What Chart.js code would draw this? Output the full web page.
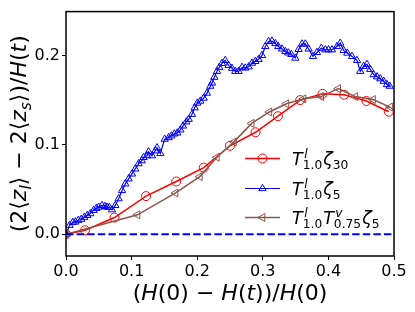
<!DOCTYPE html>
<html>
<head>
<meta charset="utf-8">
<script src="https://cdn.jsdelivr.net/npm/chart.js@4.4.1/dist/chart.umd.min.js"></script>
<style>
html, body { margin: 0; padding: 0; background: #fff; }
</style>
</head>
<body>
<canvas id="chart" width="415" height="312"></canvas>
<script>
// data
const xRed = [0, 0.029, 0.074, 0.122, 0.168, 0.210, 0.250, 0.289, 0.323, 0.357, 0.391, 0.424, 0.458, 0.492];
const yRed = [0, 0.0044, 0.0186, 0.0426, 0.0589, 0.0744, 0.0989, 0.114, 0.132, 0.150, 0.157, 0.156, 0.149, 0.137];

const xBlue = [
    0, 0.0055, 0.0104, 0.0143, 0.0188, 0.0233, 0.0279, 0.0325, 0.0371, 0.0421,
    0.0463, 0.0498, 0.0549, 0.0591, 0.0625, 0.0660, 0.0701, 0.0752, 0.0802, 0.0854,
    0.0904, 0.0954, 0.1006, 0.1056, 0.1107, 0.1155, 0.1183, 0.1235, 0.1259, 0.1311,
    0.1361, 0.1387, 0.1438, 0.1504, 0.1565, 0.1606, 0.1652, 0.1697, 0.1743, 0.1784,
    0.1834, 0.1870, 0.1921, 0.1961, 0.2002, 0.2047, 0.2098, 0.2149, 0.2200, 0.2226,
    0.2261, 0.2302, 0.2337, 0.2378, 0.2428, 0.2479, 0.2530, 0.2581, 0.2631, 0.2683,
    0.2733, 0.2784, 0.2835, 0.2886, 0.2936, 0.2988, 0.3038, 0.3088, 0.3140, 0.3191,
    0.3236, 0.3293, 0.3343, 0.3389, 0.3435, 0.3496, 0.3546, 0.3598, 0.3648, 0.3698,
    0.3765, 0.3826, 0.3892, 0.3953, 0.4003, 0.4055, 0.4131, 0.4181, 0.4232, 0.4288,
    0.4360, 0.4436, 0.4486, 0.4537, 0.4588, 0.4639, 0.4689, 0.4741, 0.4791, 0.4842,
    0.4893, 0.4935
];
const yBlue = [
    0, 0.010, 0.0133, 0.0137, 0.0156, 0.0167, 0.0189, 0.0211, 0.0230, 0.0267,
    0.0289, 0.0303, 0.0322, 0.0311, 0.0303, 0.0300, 0.0274, 0.0322, 0.0397, 0.0489,
    0.0563, 0.0619, 0.0674, 0.0730, 0.0789, 0.0822, 0.0859, 0.0878, 0.0922, 0.0878,
    0.0933, 0.0967, 0.0903, 0.1063, 0.1081, 0.1100, 0.1122, 0.1133, 0.1167, 0.1211,
    0.1256, 0.1286, 0.1341, 0.1414, 0.1467, 0.1489, 0.1522, 0.1578, 0.1656, 0.1692,
    0.1756, 0.1822, 0.1867, 0.1911, 0.1944, 0.1889, 0.1856, 0.1822, 0.1822, 0.1867,
    0.1859, 0.1872, 0.1914, 0.1933, 0.1956, 0.2000, 0.2100, 0.2156, 0.2161, 0.2133,
    0.2100, 0.2072, 0.2044, 0.2028, 0.2011, 0.1970, 0.2067, 0.2128, 0.2128, 0.2072,
    0.1989, 0.2033, 0.2081, 0.2063, 0.2063, 0.2063, 0.2100, 0.2137, 0.2056, 0.2026,
    0.1989, 0.1944, 0.1822, 0.1878, 0.1900, 0.1844, 0.1785, 0.1761, 0.1739, 0.1711,
    0.1674, 0.1656
];

const xBrown = [0, 0.109, 0.167, 0.204, 0.230, 0.256, 0.283, 0.310, 0.336, 0.362, 0.389, 0.415, 0.441, 0.468, 0.494];
const yBrown = [0, 0.0217, 0.0461, 0.0644, 0.0861, 0.1033, 0.1239, 0.1367, 0.1459, 0.1514, 0.1539, 0.1628, 0.1539, 0.1506, 0.1422];

const xZero = [0, 0.5];
const yZero = [0, 0];

const xTicks = [0, 0.1, 0.2, 0.3, 0.4, 0.5];
const yTicks = [0, 0.1, 0.2];

// label pieces: t = text, it = italic, sh = 1 for subscript; sup/sub = stacked scripts
const xLabel = [
    {t: '('}, {t: 'H', it: true}, {t: '(0) \u2212 '}, {t: 'H', it: true}, {t: '('},
    {t: 't', it: true}, {t: '))/'}, {t: 'H', it: true}, {t: '(0)'}
];
const yLabel = [
    {t: '(2\u27E8'}, {t: 'z', it: true}, {t: 'l', it: true, sh: 1}, {t: '\u27E9 \u2212 2\u27E8'},
    {t: 'z', it: true}, {t: 's', it: true, sh: 1}, {t: '\u27E9)/'}, {t: 'H', it: true},
    {t: '('}, {t: 't', it: true}, {t: ')'}
];
const legendLabels = [
    [{t: 'T', it: true}, {sup: 'l', sub: '1.0'}, {t: '\u03B6', it: true}, {t: '30', sh: 1}],
    [{t: 'T', it: true}, {sup: 'l', sub: '1.0'}, {t: '\u03B6', it: true}, {t: '5', sh: 1}],
    [{t: 'T', it: true}, {sup: 'l', sub: '1.0'}, {t: 'T', it: true}, {sup: 'v', sub: '0.75'}, {t: '\u03B6', it: true}, {t: '5', sh: 1}]
];

const toPoints = (xs, ys) => xs.map((x, i) => ({x: x, y: ys[i]}));

function richText(ctx, parts, size, x, y, draw) {
    let cx = x;
    const small = size * 0.7;
    parts.forEach(p => {
        if (p.sup !== undefined) {
            ctx.font = 'italic ' + small + 'px "DejaVu Sans"';
            const w1 = ctx.measureText(p.sup).width;
            if (draw) ctx.fillText(p.sup, cx + 1.5, y - size * 0.4);
            ctx.font = small + 'px "DejaVu Sans"';
            const w2 = ctx.measureText(p.sub).width;
            if (draw) ctx.fillText(p.sub, cx, y + size * 0.24);
            cx += Math.max(w1 + 1.5, w2) + 1;
        } else {
            const s = p.sh ? small : size;
            ctx.font = (p.it ? 'italic ' : '') + s + 'px "DejaVu Sans"';
            if (draw) ctx.fillText(p.t, cx, y + (p.sh ? size * 0.24 : 0));
            cx += ctx.measureText(p.t).width;
        }
    });
    return cx - x;
}

function drawMarker(ctx, style, x, y, r, rot) {
    ctx.beginPath();
    if (style === 'circle') {
        ctx.arc(x, y, r, 0, Math.PI * 2);
    } else {
        let a = rot * Math.PI / 180;
        ctx.moveTo(x + Math.sin(a) * r, y - Math.cos(a) * r);
        a += Math.PI * 2 / 3;
        ctx.lineTo(x + Math.sin(a) * r, y - Math.cos(a) * r);
        a += Math.PI * 2 / 3;
        ctx.lineTo(x + Math.sin(a) * r, y - Math.cos(a) * r);
        ctx.closePath();
    }
    ctx.stroke();
}

const legendItems = [
    {color: '#ff0000', marker: 'circle', r: 4.5, rot: 0, width: 1.5},
    {color: '#0000ff', marker: 'triangle', r: 4.2, rot: 0, width: 1.2},
    {color: '#8c564b', marker: 'triangle', r: 4.6, rot: -90, width: 1.5}
];

const frameAndText = {
    id: 'frameAndText',
    afterDraw(chart) {
        const {ctx, chartArea: a} = chart;
        ctx.save();
        ctx.strokeStyle = '#000';
        ctx.lineWidth = 1.5;
        ctx.strokeRect(a.left, a.top, a.right - a.left, a.bottom - a.top);

        ctx.fillStyle = '#000';
        ctx.textBaseline = 'alphabetic';
        ctx.textAlign = 'left';

        // x axis title
        const wx = richText(ctx, xLabel, 22, 0, 0, false);
        richText(ctx, xLabel, 22, (a.left + a.right) / 2 - wx / 2, 300, true);

        // y axis title
        ctx.save();
        ctx.translate(26, (a.top + a.bottom) / 2);
        ctx.rotate(-Math.PI / 2);
        const wy = richText(ctx, yLabel, 22, 0, 0, false);
        richText(ctx, yLabel, 22, -wy / 2, 0, true);
        ctx.restore();

        // legend (no frame)
        const rows = [158.5, 188.5, 217.5];
        legendItems.forEach((item, i) => {
            const ly = rows[i];
            ctx.strokeStyle = item.color;
            ctx.lineWidth = item.width;
            ctx.beginPath();
            ctx.moveTo(245, ly);
            ctx.lineTo(280, ly);
            ctx.stroke();
            ctx.lineWidth = 1;
            drawMarker(ctx, item.marker, 262.5, ly, item.r, item.rot);
            ctx.fillStyle = '#000';
            richText(ctx, legendLabels[i], 17.5, 292, ly + 6.5, true);
        });
        ctx.restore();
    }
};

const tickFont = {family: 'DejaVu Sans', size: 16};

new Chart(document.getElementById('chart'), {
    type: 'line',
    data: {
        datasets: [
            {
                data: toPoints(xZero, yZero),
                borderColor: '#0000ff',
                borderWidth: 2,
                borderDash: [7.4, 3.2],
                pointRadius: 0
            },
            {
                data: toPoints(xBrown, yBrown),
                borderColor: '#8c564b',
                borderWidth: 1.5,
                pointStyle: 'triangle',
                pointRotation: -90,
                pointRadius: 4.6,
                pointBorderWidth: 1,
                pointBorderColor: '#8c564b',
                pointBackgroundColor: 'rgba(0,0,0,0)'
            },
            {
                data: toPoints(xBlue, yBlue),
                borderColor: '#0000ff',
                borderWidth: 1.2,
                pointStyle: 'triangle',
                pointRadius: 4.2,
                pointBorderWidth: 1,
                pointBorderColor: '#0000ff',
                pointBackgroundColor: 'rgba(0,0,0,0)'
            },
            {
                data: toPoints(xRed, yRed),
                borderColor: '#ff0000',
                borderWidth: 1.5,
                pointStyle: 'circle',
                pointRadius: 4.5,
                pointBorderWidth: 1,
                pointBorderColor: '#ff0000',
                pointBackgroundColor: 'rgba(0,0,0,0)'
            }
        ]
    },
    options: {
        responsive: false,
        animation: false,
        layout: {
            padding: {top: 10, right: 21, left: 0, bottom: 0}
        },
        plugins: {
            legend: {display: false},
            tooltip: {enabled: false}
        },
        scales: {
            x: {
                type: 'linear',
                min: 0,
                max: 0.5,
                afterBuildTicks: s => { s.ticks = xTicks.map(v => ({value: v})); },
                afterFit: s => { s.height = 56; },
                grid: {drawOnChartArea: false, tickLength: 4, tickColor: '#000', tickWidth: 1},
                border: {display: false},
                ticks: {
                    color: '#000',
                    font: tickFont,
                    padding: 2,
                    maxRotation: 0,
                    autoSkip: false,
                    callback: v => v.toFixed(1)
                }
            },
            y: {
                type: 'linear',
                min: -0.0244,
                max: 0.249,
                afterBuildTicks: s => { s.ticks = yTicks.map(v => ({value: v})); },
                afterFit: s => { s.width = 66; },
                grid: {drawOnChartArea: false, tickLength: 4, tickColor: '#000', tickWidth: 1},
                border: {display: false},
                ticks: {
                    color: '#000',
                    font: tickFont,
                    padding: 2,
                    autoSkip: false,
                    callback: v => v.toFixed(1)
                }
            }
        }
    },
    plugins: [frameAndText]
});
</script>
</body>
</html>
